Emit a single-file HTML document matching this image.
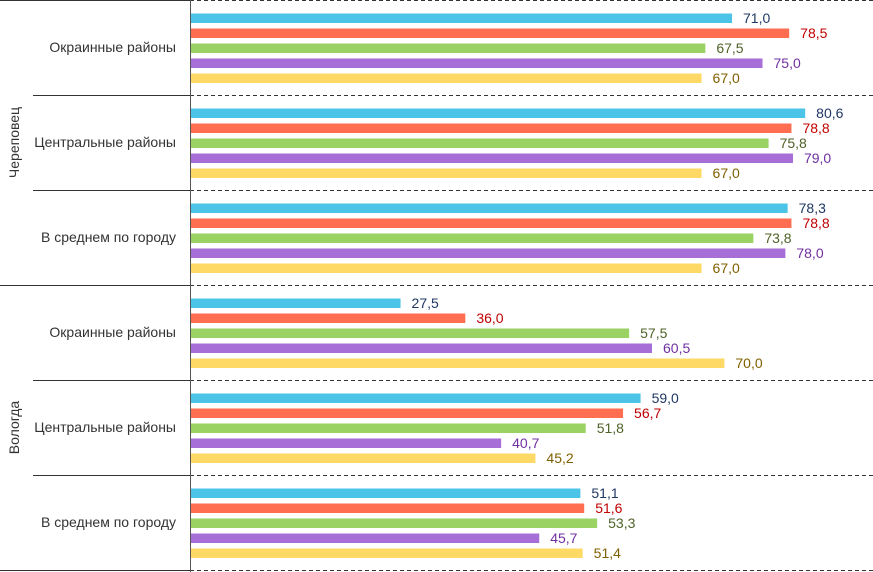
<!DOCTYPE html>
<html><head><meta charset="utf-8">
<style>
html,body{margin:0;padding:0;background:#fff;}
svg{display:block;font-family:"Liberation Sans","DejaVu Sans",sans-serif;}
</style></head>
<body>
<svg id="chart" width="873" height="572"></svg>
<script>
const cities = ["Череповец","Вологда"];
const categories = ["Окраинные районы","Центральные районы","В среднем по городу","Окраинные районы","Центральные районы","В среднем по городу"];
const series1 = [71.0,80.6,78.3,27.5,59.0,51.1];
const series2 = [78.5,78.8,78.8,36.0,56.7,51.6];
const series3 = [67.5,75.8,73.8,57.5,51.8,53.3];
const series4 = [75.0,79.0,78.0,60.5,40.7,45.7];
const series5 = [67.0,67.0,67.0,70.0,45.2,51.4];
const allSeries=[series1,series2,series3,series4,series5];
const barColors=["#4bc4e8","#ff6e50","#9ad264","#a66ed6","#ffd966"];
const labelColors=["#1f3864","#c00000","#4f6228","#7030a0","#7f6000"];
const NS="http://www.w3.org/2000/svg";
const svg=document.getElementById("chart");
const x0=191, ppu=7.62, groupH=95;
const xScale=v=>x0+v*ppu;
const yGroup=i=>i*groupH;
function mk(t,a){const e=document.createElementNS(NS,t);for(const k in a)e.setAttribute(k,a[k]);svg.appendChild(e);return e;}
let l=mk("line",{x1:0,y1:0.5,x2:190,y2:0.5,stroke:"#333","stroke-width":1});


for(let g=0;g<=categories.length;g++){
  const y=yGroup(g)+0.5;
  if(g>0){
    const left=(g===3||g===6)?0:33;
    const s=mk("line",{x1:left,y1:y,x2:190,y2:y,stroke:"#333","stroke-width":1});
    
    
  }
  const d=mk("line",{x1:190,y1:y,x2:873,y2:y,stroke:"#333","stroke-width":1,"stroke-dasharray":"4,3"});
  
  
}
categories.forEach((c,g)=>{
  const t=mk("text",{x:176,y:yGroup(g)+52,"text-anchor":"end","font-size":14,"textLength":null,fill:"#333"});
  t.removeAttribute("textLength");
  t.textContent=c;
  
  
  allSeries.forEach((s,i)=>{
    const top=yGroup(g)+13.5+i*15;
    const r=mk("rect",{x:x0,y:top,width:xScale(s[g])-x0,height:9.5,fill:barColors[i]});
    
    
    const v=mk("text",{x:xScale(s[g])+11,y:top+9.5,"font-size":14,fill:labelColors[i]});
    v.textContent=s[g].toFixed(1).replace(".",",");
    
    
  });
});
cities.forEach((c,i)=>{
  const cy=yGroup(i*3)+142.5;
  const t=mk("text",{x:0,y:0,"text-anchor":"middle","font-size":14,fill:"#333",transform:`translate(19,${cy}) rotate(-90)`});
  t.textContent=c;
  
  
});
const ax=mk("line",{x1:190.5,y1:0,x2:190.5,y2:572,stroke:"#555","stroke-width":1});


</script>
</body></html>
